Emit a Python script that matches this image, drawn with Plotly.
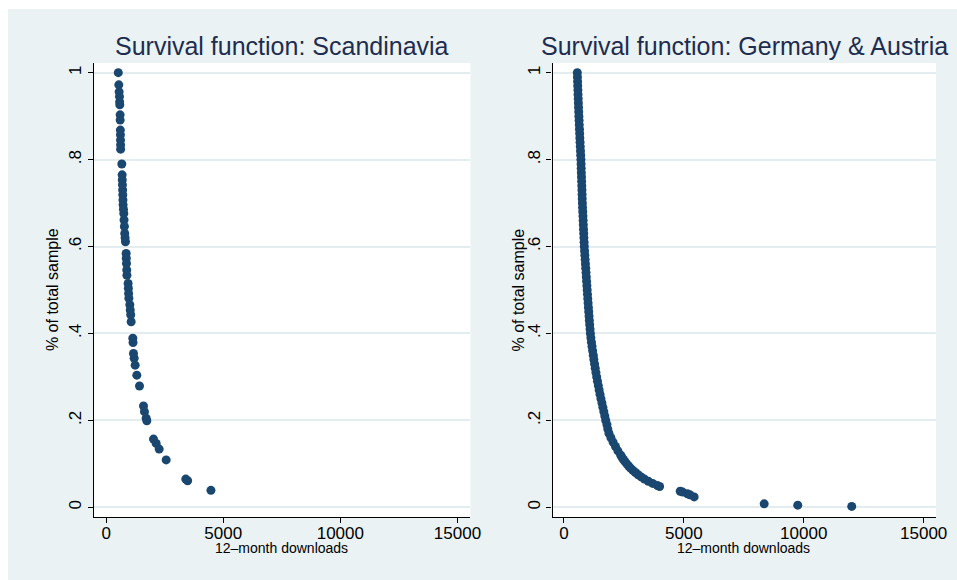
import plotly.graph_objects as go

# ---- data: survival function points (downloads, share of sample still above) ----
scan_downloads = [520, 541, 556, 570, 577, 584, 598, 600, 608, 612, 615, 618, 620,
                  670, 684, 690, 697, 705, 712, 718, 725, 740, 755, 765, 780, 795,
                  810, 826, 855, 862, 870, 880, 888, 940, 950, 960, 972, 1012, 1030,
                  1050, 1069, 1140, 1150, 1168, 1197, 1240, 1311, 1425, 1596, 1638,
                  1710, 1738, 2023, 2137, 2265, 2564, 3400, 3480, 4475]
scan_share = [1.000, 0.972, 0.956, 0.945, 0.933, 0.926, 0.903, 0.891, 0.868, 0.857,
              0.845, 0.834, 0.824, 0.790, 0.765, 0.753, 0.742, 0.730, 0.719, 0.707,
              0.696, 0.686, 0.676, 0.661, 0.646, 0.630, 0.620, 0.611, 0.584, 0.573,
              0.561, 0.546, 0.534, 0.515, 0.504, 0.492, 0.481, 0.466, 0.454, 0.443,
              0.427, 0.389, 0.379, 0.354, 0.343, 0.327, 0.304, 0.279, 0.233, 0.220,
              0.205, 0.199, 0.157, 0.147, 0.134, 0.109, 0.065, 0.061, 0.039]

deat_downloads = [559, 565, 571, 577, 584, 590, 597, 604, 611, 618, 625, 633, 641, 649,
                  657, 665, 674, 683, 692, 701, 710, 716, 722, 728, 734, 740, 746, 752,
                  758, 764, 770, 778, 786, 794, 802, 810, 818, 826, 834, 842, 851, 862,
                  874, 886, 898, 910, 922, 934, 946, 958, 970, 983, 996, 1009, 1022,
                  1035, 1048, 1061, 1075, 1090, 1105, 1125, 1148, 1172, 1198, 1225,
                  1250, 1278, 1306, 1336, 1368, 1400, 1435, 1470, 1506, 1545, 1585,
                  1625, 1665, 1705, 1745, 1795, 1830, 1880, 1960, 2050, 2150, 2250,
                  2370, 2420, 2480, 2550, 2620, 2700, 2780, 2875, 2980, 3095, 3220,
                  3360, 3520, 3700, 3900, 3990, 4850, 4950, 5150, 5250, 5430, 8350,
                  9750, 12000]
deat_share = [1.00, 0.99, 0.98, 0.97, 0.96, 0.95, 0.94, 0.93, 0.92, 0.91, 0.90, 0.89,
              0.88, 0.87, 0.86, 0.85, 0.84, 0.83, 0.82, 0.81, 0.80, 0.79, 0.78, 0.77,
              0.76, 0.75, 0.74, 0.73, 0.72, 0.71, 0.70, 0.69, 0.68, 0.67, 0.66, 0.65,
              0.64, 0.63, 0.62, 0.61, 0.60, 0.59, 0.58, 0.57, 0.56, 0.55, 0.54, 0.53,
              0.52, 0.51, 0.50, 0.49, 0.48, 0.47, 0.46, 0.45, 0.44, 0.43, 0.42, 0.41,
              0.40, 0.39, 0.38, 0.37, 0.36, 0.35, 0.34, 0.33, 0.32, 0.31, 0.30, 0.29,
              0.28, 0.27, 0.26, 0.25, 0.24, 0.23, 0.22, 0.21, 0.20, 0.19, 0.18, 0.17,
              0.16, 0.15, 0.14, 0.13, 0.12, 0.115, 0.110, 0.105, 0.100, 0.095, 0.090,
              0.085, 0.080, 0.075, 0.070, 0.065, 0.060, 0.055, 0.050, 0.048, 0.037,
              0.035, 0.031, 0.029, 0.024, 0.008, 0.005, 0.002]

panel_titles = ["Survival function: Scandinavia", "Survival function: Germany & Austria"]
y_title = "% of total sample"
x_title = "12\u2013month downloads"
y_tickvals = [0, 0.2, 0.4, 0.6, 0.8, 1.0]
y_ticktext = ["0", ".2", ".4", ".6", ".8", "1"]
x_tickvals = [0, 5000, 10000, 15000]
x_ticktext = ["0", "5000", "10000", "15000"]

# ---- styling ----
W, H = 957, 580          # layout grid used for placing the panels
FIG_W = 969              # figure width (slightly wider so the backdrop fills the page)
MARKER = "#1a476f"
BG = "#eaf2f3"
GRID = "#e3edef"
TITLE_C = "#1e2d4f"
FONT = "Liberation Sans, Arial, sans-serif"


def px_x(p):
    return p / W


def px_y(p):
    return 1 - p / H


fig = go.Figure()
fig.add_trace(go.Scatter(x=scan_downloads, y=scan_share, mode="markers",
                         marker=dict(color=MARKER, size=9, line=dict(width=0)),
                         xaxis="x", yaxis="y", showlegend=False))
fig.add_trace(go.Scatter(x=deat_downloads, y=deat_share, mode="markers",
                         marker=dict(color=MARKER, size=9, line=dict(width=0)),
                         xaxis="x2", yaxis="y2", showlegend=False))

common_x = dict(tickmode="array", tickvals=x_tickvals, ticktext=x_ticktext,
                showgrid=False, zeroline=False, showline=True, linecolor="black",
                linewidth=1.2, ticks="outside", ticklen=5, tickcolor="black",
                ticklabelstandoff=-5,
                tickfont=dict(family=FONT, size=17, color="black"))
common_y = dict(tickmode="array", tickvals=y_tickvals, ticktext=y_ticktext,
                range=[-0.0223, 1.0223], showgrid=True, gridcolor=GRID, gridwidth=1.5,
                zeroline=False, showline=True, linecolor="black", linewidth=1.2,
                ticks="outside", ticklen=5, tickcolor="black", tickangle=-90,
                tickfont=dict(family=FONT, size=17, color="black"))

# panel frames in pixels: (left, right) and shared (top, bottom)
left_px = (94, 470)
right_px = (552, 935)
top_px, bottom_px = 63, 517

fig.update_layout(
    width=FIG_W, height=H, autosize=False,
    margin=dict(l=0, r=0, t=0, b=0),
    paper_bgcolor=BG, plot_bgcolor="white",
    xaxis=dict(domain=[px_x(left_px[0]), px_x(left_px[1])], range=[-513, 15556],
               anchor="y", **common_x),
    yaxis=dict(domain=[px_y(bottom_px), px_y(top_px)], anchor="x", **common_y),
    xaxis2=dict(domain=[px_x(right_px[0]), px_x(right_px[1])], range=[-472, 15513],
                anchor="y2", **common_x),
    yaxis2=dict(domain=[px_y(bottom_px), px_y(top_px)], anchor="x2", **common_y),
    shapes=[
        dict(type="rect", xref="paper", yref="paper", x0=0, x1=1, y0=px_y(9), y1=1,
             fillcolor="white", line=dict(width=0), layer="above"),
        dict(type="rect", xref="paper", yref="paper", x0=0, x1=px_x(8), y0=0, y1=1,
             fillcolor="white", line=dict(width=0), layer="above"),
    ],
)

annotations = []
for (l, r), title, ytx in [(left_px, panel_titles[0], 52), (right_px, panel_titles[1], 517)]:
    cx = (l + r) / 2
    annotations.append(dict(text=title, xref="paper", yref="paper", x=px_x(cx),
                            y=px_y(46), xanchor="center", yanchor="middle",
                            showarrow=False,
                            font=dict(family=FONT, size=25, color=TITLE_C)))
    annotations.append(dict(text=x_title, xref="paper", yref="paper", x=px_x(cx - 1),
                            y=px_y(548), xanchor="center", yanchor="middle",
                            showarrow=False,
                            font=dict(family=FONT, size=14, color="black")))
    annotations.append(dict(text=y_title, xref="paper", yref="paper", x=px_x(ytx),
                            y=px_y((top_px + bottom_px) / 2), xanchor="center",
                            yanchor="middle", textangle=-90, showarrow=False,
                            font=dict(family=FONT, size=16, color="black")))
fig.update_layout(annotations=annotations)

fig.write_html("out.html", config={"responsive": False})
